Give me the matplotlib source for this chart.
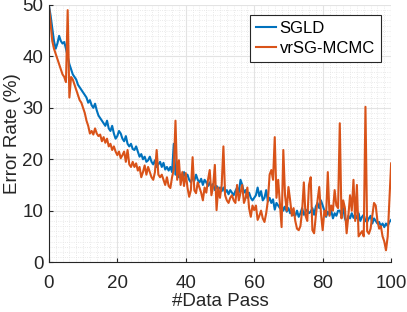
import numpy as np
import matplotlib
matplotlib.use('Agg')
import matplotlib.pyplot as plt
from matplotlib.ticker import MultipleLocator

# data passes, sampled every half pass
x = np.arange(0, 100.5, 0.5)

sgld = [
    50, 48, 45.5, 43, 41.5, 42.5, 44, 43, 42.5, 42.8,
    41.5, 40, 38.5, 37.5, 36.5, 36, 35.5, 34.5, 34, 33.5,
    33, 32.5, 32, 31, 31.5, 30.5, 30, 30.8, 29.5, 28.5,
    28, 27.5, 27, 26.5, 27.5, 26, 25.5, 26.5, 25, 24,
    24.5, 25.5, 25, 24, 23.5, 24.5, 23, 22.5, 23, 22,
    21.8, 22.5, 21.5, 20.5, 21, 20, 20.5, 19.5, 19.8, 20.5,
    19.5, 19, 19.8, 18.5, 19, 19.5, 18.5, 19.3, 18, 18.5,
    17.8, 18.5, 17.5, 23, 17, 17.5, 16.5, 17, 16, 17.5,
    16.5, 17, 16, 15.5, 16.5, 15.8, 17, 16, 15.5, 16.2,
    15, 16, 15.5, 14.8, 15.5, 14.5, 15.2, 14, 14.8, 14.2,
    14.5, 13.8, 14.5, 13.5, 14, 13.2, 14, 13.5, 13, 13.8,
    14.5, 13.5, 16, 15, 13.5, 14, 12.5, 13.5, 12.5, 12,
    12.5, 13, 14.5, 12.8, 13.8, 12, 12.5, 14, 11.8, 12.5,
    11.5, 12.2, 10.2, 11.5, 11, 10.5, 11.2, 10, 10.8, 9.8,
    10.5, 9.5, 10.2, 9.2, 9, 10, 8.8, 9.5, 10.5, 9.2,
    9.8, 10.2, 9.5, 9.8, 10.5, 9.2, 10.8, 11.5, 10.5, 12,
    11, 10, 8.8, 9.8, 9.2, 10, 8.5, 9.5, 9, 10,
    10, 9, 10.5, 8.5, 7.6, 9, 8.5, 9.5, 8.6, 9.2,
    8.5, 9.5, 8, 8.8, 9.2, 8, 7.8, 8.5, 9, 7.5,
    8.5, 8, 7.5, 7.8, 7, 7.5, 6.8, 7.5, 7, 7.8,
    8.2,
]

vrsg = [
    50, 46.5, 43, 41.5, 40.5, 39.5, 38.5, 37.5, 36.5, 36,
    35, 49, 32, 36, 35.5, 34.5, 33.5, 32.5, 31.5, 31,
    30, 29, 27.5, 26.5, 25, 25.5, 24.8, 26, 25, 24.5,
    24.8, 23.5, 24.3, 23.2, 24, 22.5, 23, 21.8, 22.5, 21.5,
    20.8, 21.5, 20.2, 20.8, 21.5, 19.5, 21.8, 19, 18.5, 19.5,
    18.5, 19.2, 17.8, 18.5, 16.5, 17.5, 18.8, 17, 18.5, 17.5,
    16.5, 16, 17.5, 21.8, 17, 16.5, 17, 16, 15, 16.5,
    14.8, 14.4, 16.5, 18, 27.5, 16, 19.8, 15, 17.5, 14.8,
    17.3, 14.5, 12.7, 14, 20.4, 14, 13.4, 15.5, 14.5, 13.5,
    12, 14.5, 13.5, 16, 17.9, 13, 14.8, 18.9, 10.1, 14.5,
    12.5, 15, 22.5, 13, 12, 11.5, 12.5, 13, 12, 11.5,
    15, 12, 13.5, 15, 11.5, 12.5, 14.5, 10.5, 8.8, 11,
    10.1, 11, 8.2, 9, 10, 8.5, 7.8, 9.5, 12, 17,
    17.9, 16, 24.3, 12.5, 16, 11.5, 6.8, 21.8, 13, 10,
    14.6, 12, 9, 10.5, 8, 6.5, 6.2, 7, 10, 15.5,
    9, 8, 15, 16.5, 6.2, 5.6, 9, 12, 14.6, 9.5,
    6.2, 10, 9, 17.5, 9, 11, 10, 14, 11, 10.5,
    27, 8.5, 12, 10.5, 5.6, 9, 13, 10, 16, 8,
    15, 5, 5.5, 6, 5, 30.2, 6, 5.5, 6.5, 9,
    11.5, 11, 8, 6.5, 7, 5, 4, 2.3, 5, 12,
    19.2,
]

blue = '#0072BD'
orange = '#D95319'
dark = '#262626'

plt.rcParams['font.family'] = ['Liberation Sans', 'DejaVu Sans']

fig = plt.figure(figsize=(4.07, 3.12), dpi=100)
ax = fig.add_axes([0.120, 0.160, 0.841, 0.824])

ax.plot(x, sgld, color=blue, lw=1.5, label='SGLD')
ax.plot(x, vrsg, color=orange, lw=1.5, label='vrSG-MCMC')

ax.set_xlim(0, 100)
ax.set_ylim(0, 50)
ax.xaxis.set_major_locator(MultipleLocator(20))
ax.yaxis.set_major_locator(MultipleLocator(10))
ax.xaxis.set_minor_locator(MultipleLocator(2))
ax.yaxis.set_minor_locator(MultipleLocator(1))

ax.grid(which='major', color='#e3e3e3', lw=0.8, ls='-')
ax.grid(which='minor', color='#e3e3e3', lw=0.6, ls=':')
ax.set_axisbelow(True)

for side in ['top', 'right']:
    ax.spines[side].set_visible(False)
for side in ['left', 'bottom']:
    ax.spines[side].set_color(dark)
    ax.spines[side].set_linewidth(0.8)

ax.tick_params(which='major', direction='in', length=3, width=0.8,
               colors=dark, labelsize=13.5)
ax.tick_params(axis='x', which='major', pad=9)
ax.tick_params(axis='y', which='major', pad=4)
ax.tick_params(which='minor', length=0)

ax.set_xlabel('#Data Pass', fontsize=13.5, color=dark, labelpad=1)
ax.set_ylabel('Error Rate (%)', fontsize=13.5, color=dark, labelpad=1)

leg = ax.legend(loc='upper right', bbox_to_anchor=(0.97, 0.96),
                borderaxespad=0, fontsize=12, fancybox=False,
                framealpha=1, edgecolor='#262626', handlelength=1.2,
                handletextpad=0.25, borderpad=0.35, labelspacing=0.3)
leg.get_frame().set_linewidth(0.8)

fig.savefig('out.png', dpi=100)
